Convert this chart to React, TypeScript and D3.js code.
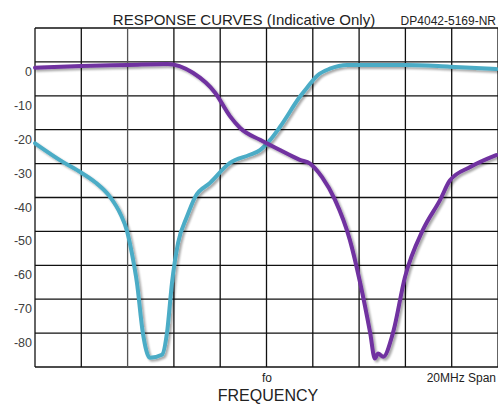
import React from "react";
import * as d3 from "d3";

const W = 498;
const H = 404;

const yTicks = [0, -10, -20, -30, -40, -50, -60, -70, -80];
const yGrid = [10, 0, -10, -20, -30, -40, -50, -60, -70, -80, -90];
const xGrid = [0, 1, 2, 3, 4, 5, 6, 7, 8, 9, 10];

const purpleX = [0, 1, 2, 2.85, 3.41, 3.89, 4.21, 4.43, 4.86, 5.29, 5.72, 5.94, 6.2, 6.48, 6.8, 7.02, 7.24, 7.34, 7.41, 7.52, 7.73, 7.99, 8.38, 8.75, 8.96, 9.4, 9.96];
const purpleY = [-1.7, -1.2, -0.9, -0.6, -3.2, -9.1, -16, -19.5, -23, -26, -28.9, -30, -34, -40.7, -52.5, -65, -80, -87.5, -86, -87, -80, -63.5, -49.5, -40.7, -35, -31, -27.5];

const tealX = [0, 0.6, 1.0, 1.3, 1.62, 1.85, 1.99, 2.1, 2.2, 2.33, 2.48, 2.74, 2.85, 2.96, 3.09, 3.28, 3.46, 3.78, 4.21, 4.64, 4.86, 5.08, 5.29, 5.72, 5.87, 6.1, 6.37, 6.74, 8.03, 8.96, 9.96];
const tealY = [-24, -29.5, -32.7, -35.5, -39.8, -45, -50, -57, -65, -80, -87.3, -86.4, -80, -65, -53.4, -45.7, -39.8, -35.7, -29.8, -27.4, -26, -23, -19.2, -10.3, -7.7, -4, -2, -0.9, -0.9, -1.4, -2.1];

export default function App() {
  const x = d3.scaleLinear().domain([0, 10]).range([35, 498]);
  const y = d3.scaleLinear().domain([10, -90]).range([28, 367]);
  const line = d3
    .line<[number, number]>()
    .x((d) => x(d[0]))
    .y((d) => y(d[1]))
    .curve(d3.curveMonotoneX);
  const purple = line(purpleX.map((v, i) => [v, purpleY[i]]) as [number, number][]) || "";
  const teal = line(tealX.map((v, i) => [v, tealY[i]]) as [number, number][]) || "";
  const font = "'Liberation Sans', Arial, sans-serif";

  return (
    <svg width={W} height={H} style={{ position: "absolute", left: 0, top: 0, background: "#fff" }}>
      <defs>
        <filter id="sh" x="-10%" y="-10%" width="120%" height="120%">
          <feGaussianBlur in="SourceAlpha" stdDeviation="1.2" />
          <feOffset dx="1.5" dy="2" result="b" />
          <feComponentTransfer>
            <feFuncA type="linear" slope="0.35" />
          </feComponentTransfer>
          <feMerge>
            <feMergeNode />
            <feMergeNode in="SourceGraphic" />
          </feMerge>
        </filter>
      </defs>
      {yGrid.map((v) => (
        <line key={"h" + v} x1={x(0)} x2={x(10)} y1={y(v)} y2={y(v)} stroke="#111" strokeWidth={1.3} />
      ))}
      {xGrid.map((v) => (
        <line key={"v" + v} x1={x(v)} x2={x(v)} y1={y(10)} y2={y(-90)} stroke={v === 2 ? "#555" : "#111"} strokeWidth={1.3} />
      ))}
      <path d={teal} fill="none" stroke="#4bacc6" strokeWidth={4} strokeLinejoin="round" strokeLinecap="round" filter="url(#sh)" />
      <path d={purple} fill="none" stroke="#7030a0" strokeWidth={4} strokeLinejoin="round" strokeLinecap="round" filter="url(#sh)" />
      {yTicks.map((v) => (
        <text key={"t" + v} x={32} y={y(v) + 14} textAnchor="end" fontFamily={font} fontSize={12.5} fill="#404040">
          {v}
        </text>
      ))}
      <text x={244} y={25} textAnchor="middle" fontFamily={font} fontSize={15} fill="#222">
        RESPONSE CURVES (Indicative Only)
      </text>
      <text x={496} y={25} textAnchor="end" fontFamily={font} fontSize={12} fill="#222">
        DP4042-5169-NR
      </text>
      <text x={267} y={382} textAnchor="middle" fontFamily={font} fontSize={12} fill="#222">
        fo
      </text>
      <text x={496} y={382} textAnchor="end" fontFamily={font} fontSize={12} fill="#222">
        20MHz Span
      </text>
      <text x={268} y={401} textAnchor="middle" fontFamily={font} fontSize={16} fill="#222">
        FREQUENCY
      </text>
    </svg>
  );
}
